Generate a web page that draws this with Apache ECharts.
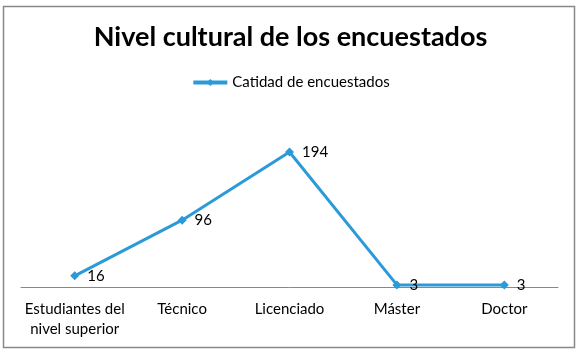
<!DOCTYPE html>
<html>
<head>
<meta charset="utf-8">
<script src="https://cdn.jsdelivr.net/npm/echarts@6/dist/echarts.min.js"></script>
<style>
  html, body { margin: 0; padding: 0; background: #fff; }
  #chart { width: 581px; height: 354px; }
</style>
</head>
<body>
<div id="chart"></div>
<script>
const categories = ["Estudiantes del\nnivel superior", "Técnico", "Licenciado", "Máster", "Doctor"];
const seriesName = "Catidad de encuestados";
const values = [16, 96, 194, 3, 3];

const chart = echarts.init(document.getElementById("chart"));
const font = "Lato, 'Open Sans', sans-serif";

chart.setOption({
  animation: false,
  textStyle: { fontFamily: font },
  graphic: [
    {
      type: "rect",
      shape: { x: 3.5, y: 6.5, width: 571, height: 341 },
      style: { fill: "none", stroke: "#888", lineWidth: 1.5 },
      silent: true
    }
  ],
  title: {
    text: "Nivel cultural de los encuestados",
    left: "center",
    top: 19,
    textStyle: { fontSize: 27, fontWeight: "bold", color: "#000", fontFamily: font }
  },
  legend: {
    top: 70,
    left: "center",
    itemWidth: 34,
    itemHeight: 9,
    itemGap: 4,
    lineStyle: { width: 4 },
    textStyle: { fontSize: 15, color: "#000", fontFamily: font },
    data: [seriesName]
  },
  grid: { left: 21, right: 23, top: 113, bottom: 67, containLabel: false },
  xAxis: {
    type: "category",
    data: categories,
    boundaryGap: true,
    axisLine: { lineStyle: { color: "#888", width: 1 } },
    axisTick: { show: false },
    axisLabel: { color: "#000", fontSize: 15, margin: 12, lineHeight: 20, fontFamily: font, interval: 0 }
  },
  yAxis: {
    type: "value",
    min: 0,
    max: 250,
    show: false,
    splitLine: { show: false }
  },
  series: [
    {
      name: seriesName,
      type: "line",
      data: values,
      symbol: "diamond",
      symbolSize: 9,
      color: "#2b9ad8",
      lineStyle: { width: 3, color: "#2b9ad8" },
      itemStyle: { color: "#2b9ad8" },
      label: {
        show: true,
        position: "right",
        distance: 8,
        color: "#000",
        fontSize: 15,
        fontFamily: font
      }
    }
  ]
});
</script>
</body>
</html>
